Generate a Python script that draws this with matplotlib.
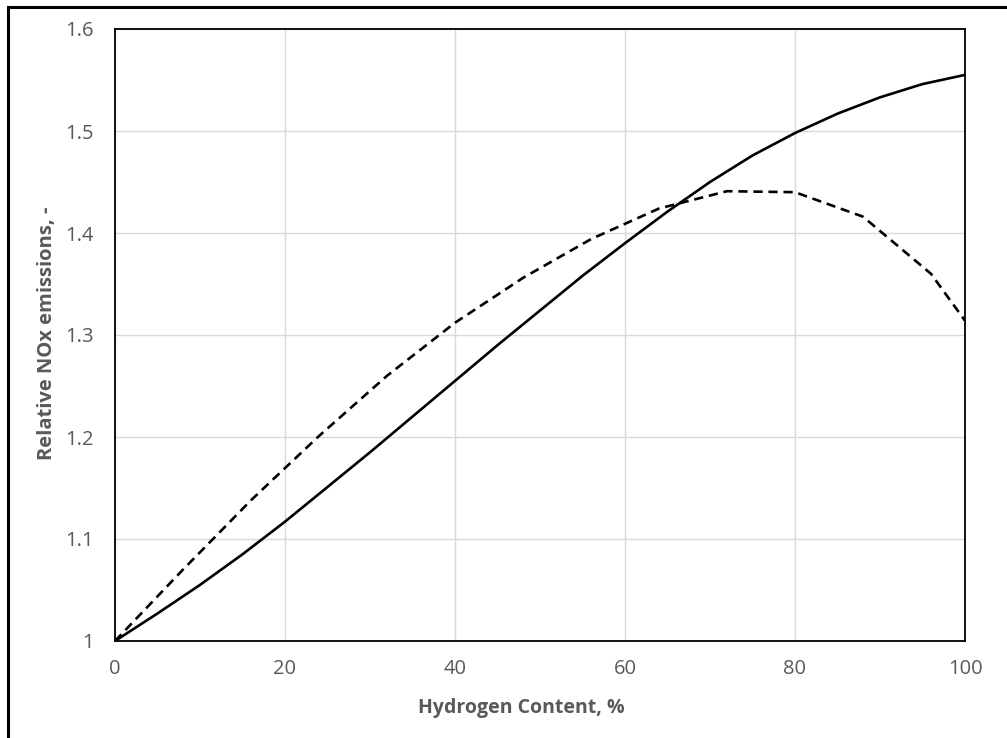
import matplotlib
matplotlib.use("Agg")
import matplotlib.pyplot as plt
from matplotlib.patches import Rectangle

# solid curve
h2_solid = [0, 5, 10, 15, 20, 25, 30, 35, 40, 45, 50, 55, 60, 65, 70, 75, 80, 85, 90, 95, 100]
nox_solid = [1.000, 1.027, 1.055, 1.085, 1.117, 1.151, 1.185, 1.220, 1.255, 1.290, 1.324,
             1.358, 1.390, 1.421, 1.450, 1.476, 1.498, 1.517, 1.533, 1.546, 1.555]

# dashed curve
h2_dash = [0, 8, 16, 24, 32, 40, 48, 56, 64, 72, 80, 88, 96, 100]
nox_dash = [1.000, 1.070, 1.138, 1.201, 1.260, 1.312, 1.356, 1.394, 1.424, 1.441,
            1.440, 1.416, 1.360, 1.314]

x_ticks = [0, 20, 40, 60, 80, 100]
y_ticks = [1.0, 1.1, 1.2, 1.3, 1.4, 1.5, 1.6]
y_ticklabels = ["1", "1.1", "1.2", "1.3", "1.4", "1.5", "1.6"]

grey = "#595959"
plt.rcParams['font.family'] = ['Open Sans', 'DejaVu Sans']

fig = plt.figure(figsize=(10.07, 7.38), dpi=100)
ax = fig.add_axes([115/1007, 1-641/738, 850/1007, 612/738])

ax.plot(h2_solid, nox_solid, color="black", lw=1.9, solid_joinstyle="round")
ax.plot(h2_dash, nox_dash, color="black", lw=1.9, dashes=(3.5, 2.2))

ax.set_xlim(0, 100)
ax.set_ylim(1.0, 1.6)
ax.set_xticks(x_ticks)
ax.set_yticks(y_ticks)
ax.set_yticklabels(y_ticklabels)
ax.tick_params(length=0, labelsize=14.5, labelcolor=grey)
ax.tick_params(axis="y", pad=15)
ax.tick_params(axis="x", pad=13)
ax.grid(True, color="#d9d9d9", lw=1)
ax.set_axisbelow(True)
for s in ax.spines.values():
    s.set_linewidth(1.3)
    s.set_color("black")

ax.set_xlabel("Hydrogen Content, %", fontsize=14, fontweight="bold", color=grey)
ax.xaxis.set_label_coords((521-115)/850, (641-708)/612)
ax.xaxis.label.set_va("center")
ax.set_ylabel("Relative NOx emissions, -", fontsize=14.5, fontweight="bold", color=grey)
ax.yaxis.set_label_coords((47-115)/850, (641-333)/612)
ax.yaxis.label.set_va("center")

# outer frame
fig.patches.append(Rectangle((8/1007, -0.05), 1.1, 1-7/738+0.05, transform=fig.transFigure,
                             fill=False, edgecolor="black", lw=2.2))

fig.savefig("out.png", dpi=100)
